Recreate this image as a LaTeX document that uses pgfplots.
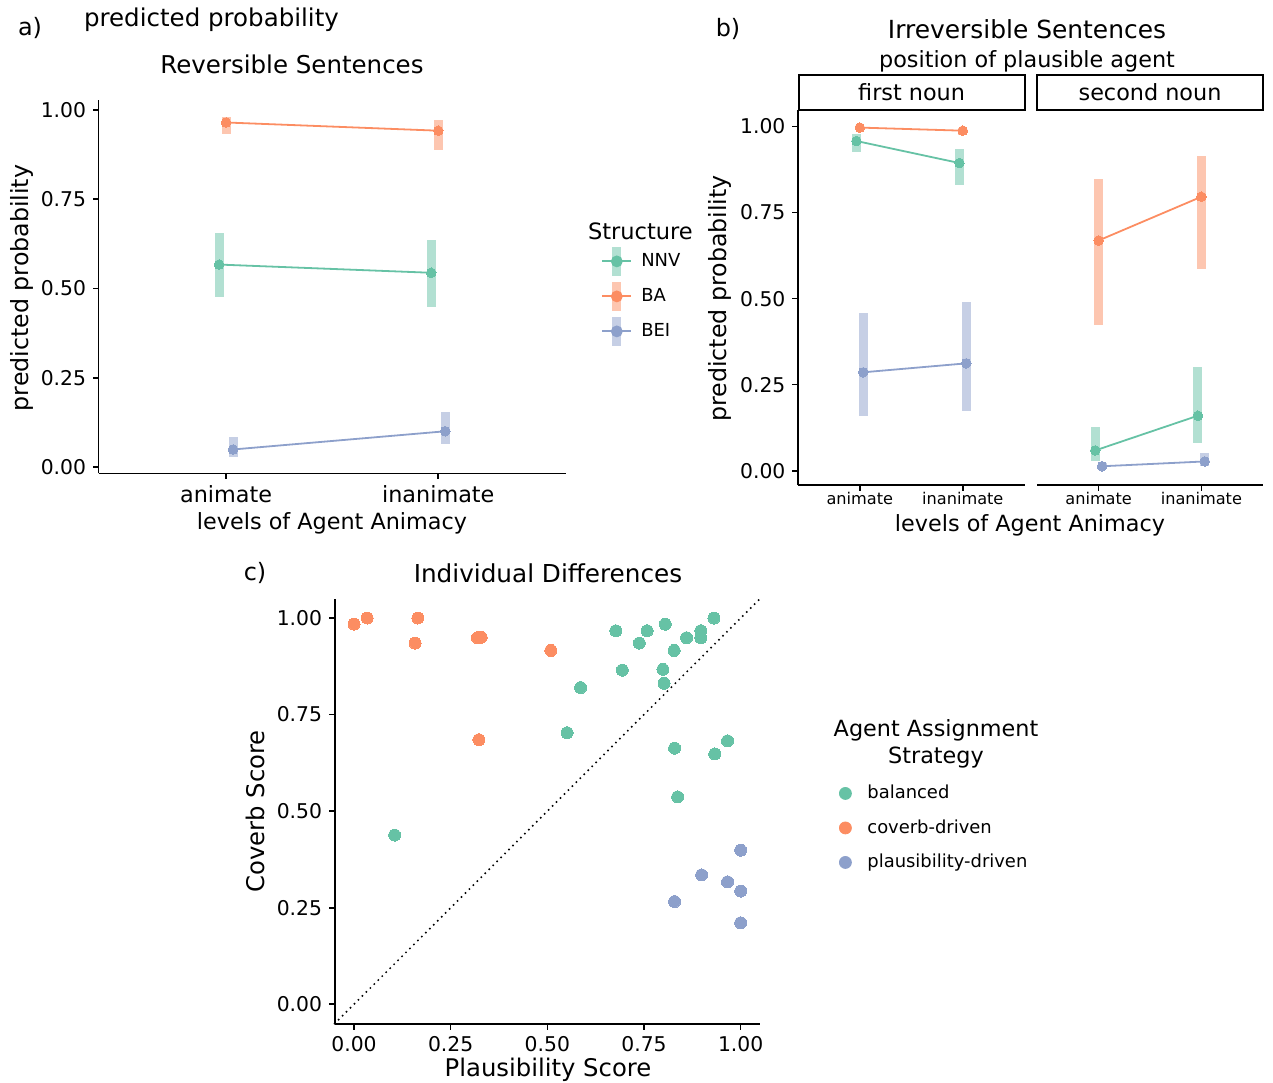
\documentclass[border=0pt]{standalone}
\usepackage{pgfplots}
\pgfplotsset{compat=1.18}
\usepackage{pgfplotstable}
\usepackage{fontspec}
\setmainfont{DejaVu Sans}
\definecolor{cNNV}{HTML}{66C2A5}
\definecolor{cBA}{HTML}{FC8D62}
\definecolor{cBEI}{HTML}{8DA0CB}
\newcommand{\fsz}[1]{\fontsize{#1}{#1}\selectfont}

% panel a
\pgfplotstableread{
x y lo hi
0.967 0.567 0.475 0.655
1.967 0.544 0.448 0.637
}\aNNV
\pgfplotstableread{
x y lo hi
1 0.965 0.933 0.981
2 0.942 0.888 0.971
}\aBA
\pgfplotstableread{
x y lo hi
1.033 0.049 0.028 0.085
2.033 0.100 0.064 0.153
}\aBEI
% panel b, first noun
\pgfplotstableread{
x y lo hi
0.967 0.958 0.926 0.977
1.967 0.894 0.830 0.935
}\bfNNV
\pgfplotstableread{
x y lo hi
1 0.997 0.992 0.999
2 0.988 0.975 0.995
}\bfBA
\pgfplotstableread{
x y lo hi
1.033 0.286 0.158 0.458
2.033 0.312 0.175 0.490
}\bfBEI
% panel b, second noun
\pgfplotstableread{
x y lo hi
0.967 0.059 0.027 0.127
1.967 0.160 0.080 0.300
}\bsNNV
\pgfplotstableread{
x y lo hi
1 0.669 0.424 0.847
2 0.796 0.586 0.915
}\bsBA
\pgfplotstableread{
x y lo hi
1.033 0.013 0.005 0.022
2.033 0.027 0.015 0.051
}\bsBEI
% panel c
\pgfplotstableread{
x y
0.677 0.967
0.758 0.967
0.805 0.984
0.931 1.000
0.738 0.935
0.860 0.949
0.897 0.967
0.897 0.949
0.828 0.916
0.694 0.865
0.799 0.867
0.802 0.831
0.586 0.820
0.551 0.703
0.829 0.663
0.966 0.682
0.933 0.648
0.837 0.537
0.105 0.438
}\cBal
\pgfplotstableread{
x y
0.000 0.984
0.034 1.000
0.165 1.000
0.158 0.935
0.319 0.949
0.329 0.950
0.509 0.916
0.323 0.685
}\cCov
\pgfplotstableread{
x y
1.000 0.399
0.899 0.335
0.966 0.317
1.000 0.293
0.829 0.266
1.000 0.211
}\cPla

\pgfplotsset{
  gg/.style={scale only axis, enlargelimits=false,
    axis x line*=bottom, axis y line*=left,
    axis line style={line width=0.8bp,black,-},
    every tick/.style={line width=0.8bp,black},
    tick align=outside, major tick length=2.8bp, minor tick num=0,
    ytick={0,0.25,0.5,0.75,1}, yticklabels={0.00,0.25,0.50,0.75,1.00},
    yticklabel style={font=\fsz{10.2}, text=black}, xticklabel style={font=\fsz{10.2}, text=black},
    clip=false},
  ci/.style 2 args={forget plot, only marks, mark=none, color=#1,
    error bars/.cd, y dir=both, y explicit, error mark=none,
    error bar style={line width=#2, opacity=0.5, line cap=butt, color=#1}},
  ln/.style={color=#1, line width=0.9bp, mark=*, mark size=2.4bp, mark options={line width=0pt}},
  legA/.style={legend image code/.code={
    \path[draw=none,fill=none] (0bp,-8bp) rectangle (14.5bp,8bp);
    \draw[line width=4.5bp, opacity=0.5, line cap=butt] (7.25bp,-7.25bp) -- (7.25bp,7.25bp);
    \draw[line width=1bp] (0bp,0bp) -- (14.5bp,0bp);
    \fill (7.25bp,0bp) circle (2.5bp);}},
  legC/.style={legend image code/.code={
    \path[draw=none,fill=none] (-7.5bp,-8.625bp) rectangle (7.5bp,8.625bp);
    \fill (0bp,0bp) circle (3bp);}},
}

\begin{document}
\begin{tikzpicture}[x=1bp,y=1bp]
\useasboundingbox (0bp,0bp) rectangle (636.5bp,541.5bp);

%================ panel a
\begin{axis}[gg, at={(49.35bp,304.8bp)}, anchor=south west, width=233.45bp, height=186.7bp,
  xmin=0.4, xmax=2.6, ymin=-0.018, ymax=1.028, xtick={1,2}, xticklabels={animate,inanimate},
  xticklabel style={font=\fsz{11.2}},
  legA, legend cell align=left,
  legend style={at={(1.0756,0.6197)}, anchor=north west, draw=none, fill=none,
    inner sep=0pt, row sep=-1.5bp, column sep=2.5bp, font=\fsz{9}}]
\addplot[ci={cNNV}{4.5bp}] table[x=x,y=y,y error plus expr=\thisrow{hi}-\thisrow{y},y error minus expr=\thisrow{y}-\thisrow{lo}] {\aNNV};
\addplot[ci={cBA}{4.5bp}] table[x=x,y=y,y error plus expr=\thisrow{hi}-\thisrow{y},y error minus expr=\thisrow{y}-\thisrow{lo}] {\aBA};
\addplot[ci={cBEI}{4.5bp}] table[x=x,y=y,y error plus expr=\thisrow{hi}-\thisrow{y},y error minus expr=\thisrow{y}-\thisrow{lo}] {\aBEI};
\addplot[ln=cNNV] table[x=x,y=y] {\aNNV}; \addlegendentry{NNV}
\addplot[ln=cBA] table[x=x,y=y] {\aBA}; \addlegendentry{BA}
\addplot[ln=cBEI] table[x=x,y=y] {\aBEI}; \addlegendentry{BEI}
\end{axis}
\node[font=\fsz{12}] at (15bp,527.5bp) {a)};
\node[font=\fsz{12.3}, anchor=west] at (38.5bp,531.5bp) {predicted probability};
\node[font=\fsz{12.3}] at (146bp,509.5bp) {Reversible Sentences};
\node[font=\fsz{11.9}, rotate=90] at (11bp,397.5bp) {predicted probability};
\node[font=\fsz{11.2}] at (166bp,280bp) {levels of Agent Animacy};
\node[font=\fsz{11.3}, anchor=west] at (290.5bp,426bp) {Structure};

%================ panel b, facet 1
\begin{axis}[gg, at={(399bp,298.9bp)}, anchor=south west, width=113.3bp, height=187.75bp,
  xmin=0.4, xmax=2.6, ymin=-0.042, ymax=1.049, xtick={1,2}, xticklabels={animate,inanimate},
  xticklabel style={font=\fsz{8.1}, yshift=3bp}]
\addplot[ci={cNNV}{4.5bp}] table[x=x,y=y,y error plus expr=\thisrow{hi}-\thisrow{y},y error minus expr=\thisrow{y}-\thisrow{lo}] {\bfNNV};
\addplot[ci={cBA}{4.5bp}] table[x=x,y=y,y error plus expr=\thisrow{hi}-\thisrow{y},y error minus expr=\thisrow{y}-\thisrow{lo}] {\bfBA};
\addplot[ci={cBEI}{4.5bp}] table[x=x,y=y,y error plus expr=\thisrow{hi}-\thisrow{y},y error minus expr=\thisrow{y}-\thisrow{lo}] {\bfBEI};
\addplot[ln=cNNV] table[x=x,y=y] {\bfNNV};
\addplot[ln=cBA] table[x=x,y=y] {\bfBA};
\addplot[ln=cBEI] table[x=x,y=y] {\bfBEI};
\end{axis}
%================ panel b, facet 2
\begin{axis}[gg, axis y line=none, at={(518.5bp,298.9bp)}, anchor=south west, width=113bp, height=187.75bp,
  xmin=0.4, xmax=2.6, ymin=-0.042, ymax=1.049, xtick={1,2}, xticklabels={animate,inanimate},
  xticklabel style={font=\fsz{8.1}, yshift=3bp}]
\addplot[ci={cNNV}{4.5bp}] table[x=x,y=y,y error plus expr=\thisrow{hi}-\thisrow{y},y error minus expr=\thisrow{y}-\thisrow{lo}] {\bsNNV};
\addplot[ci={cBA}{4.5bp}] table[x=x,y=y,y error plus expr=\thisrow{hi}-\thisrow{y},y error minus expr=\thisrow{y}-\thisrow{lo}] {\bsBA};
\addplot[ci={cBEI}{4.5bp}] table[x=x,y=y,y error plus expr=\thisrow{hi}-\thisrow{y},y error minus expr=\thisrow{y}-\thisrow{lo}] {\bsBEI};
\addplot[ln=cNNV] table[x=x,y=y] {\bsNNV};
\addplot[ln=cBA] table[x=x,y=y] {\bsBA};
\addplot[ln=cBEI] table[x=x,y=y] {\bsBEI};
\end{axis}
\draw[line width=1bp, fill=white] (399.3bp,486.65bp) rectangle (512.3bp,503.9bp);
\draw[line width=1bp, fill=white] (518.5bp,486.65bp) rectangle (631.6bp,503.9bp);
\node[font=\fsz{11.2}] at (455.8bp,495.3bp) {first noun};
\node[font=\fsz{11.2}] at (575bp,495.3bp) {second noun};
\node[font=\fsz{12}] at (364bp,527bp) {b)};
\node[font=\fsz{12.5}] at (513.5bp,527bp) {Irreversible Sentences};
\node[font=\fsz{11.2}] at (513.5bp,511bp) {position of plausible agent};
\node[font=\fsz{11.9}, rotate=90] at (360bp,392.25bp) {predicted probability};
\node[font=\fsz{11.2}] at (515bp,279bp) {levels of Agent Animacy};

%================ panel c
\begin{axis}[gg, at={(167.35bp,29.5bp)}, anchor=south west, width=212.65bp, height=212.65bp,
  xmin=-0.05, xmax=1.05, ymin=-0.051, ymax=1.05,
  xtick={0,0.25,0.5,0.75,1}, xticklabels={0.00,0.25,0.50,0.75,1.00},
  legC, legend cell align=left,
  legend style={at={(1.1646,0.5836)}, anchor=north west, draw=none, fill=none,
    inner sep=0pt, row sep=0pt, column sep=1.5bp, font=\fsz{9}}]
\addplot[forget plot, black, line width=1.1bp, line cap=round, dash pattern=on 0pt off 2.8bp] coordinates {(-0.05,-0.05) (1.05,1.05)};
\addplot[only marks, mark=*, mark size=3bp, color=cNNV, mark options={line width=0pt}] table[x=x,y=y] {\cBal}; \addlegendentry{balanced}
\addplot[only marks, mark=*, mark size=3bp, color=cBA, mark options={line width=0pt}] table[x=x,y=y] {\cCov}; \addlegendentry{coverb-driven}
\addplot[only marks, mark=*, mark size=3bp, color=cBEI, mark options={line width=0pt}] table[x=x,y=y] {\cPla}; \addlegendentry{plausibility-driven}
\end{axis}
\node[font=\fsz{12}] at (127.5bp,255bp) {c)};
\node[font=\fsz{12.4}] at (274bp,255bp) {Individual Differences};
\node[font=\fsz{12.2}, rotate=90] at (127.5bp,135.75bp) {Coverb Score};
\node[font=\fsz{12.2}] at (274bp,6.5bp) {Plausibility Score};
\node[font=\fsz{11.2}] at (468bp,176.5bp) {Agent Assignment};
\node[font=\fsz{11.2}] at (468bp,162.5bp) {Strategy};
\end{tikzpicture}
\end{document}
